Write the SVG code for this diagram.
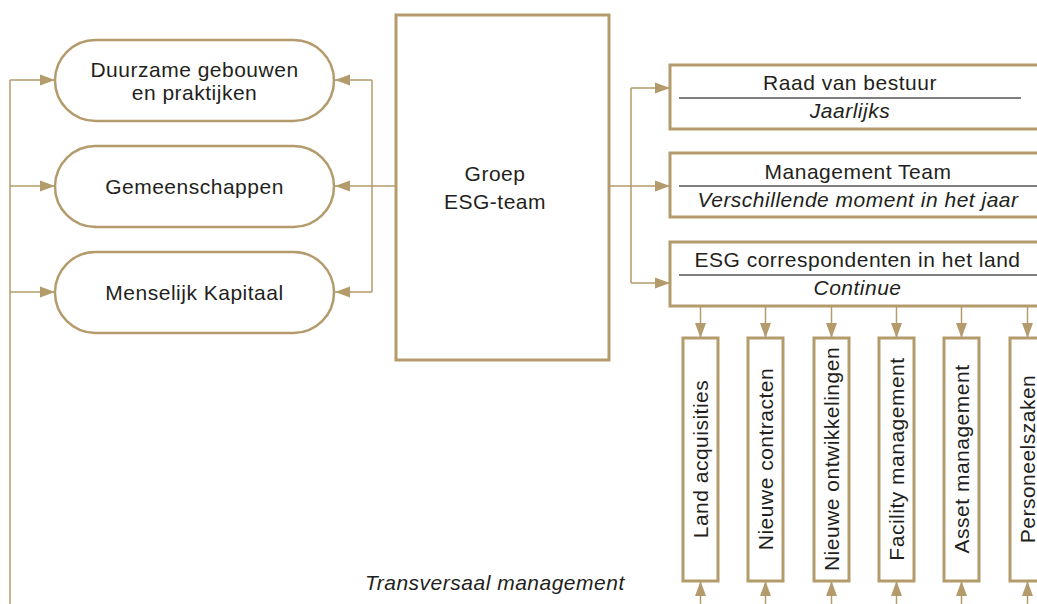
<svg xmlns="http://www.w3.org/2000/svg" width="1037" height="604" viewBox="0 0 1037 604">
<defs>
<marker id="ah" markerUnits="userSpaceOnUse" markerWidth="16" markerHeight="12" refX="15" refY="6" orient="auto">
<path d="M0,0.5 L15,6 L0,11.5 z" fill="#b39b6c"/>
</marker>
<style>
.box{fill:#fff;stroke:#b39b6c;stroke-width:3}
.ln{fill:none;stroke:#b39b6c;stroke-width:1.5}
.arr{fill:none;stroke:#b39b6c;stroke-width:1.5;marker-end:url(#ah)}
.div{stroke:#555;stroke-width:1.6}
text{font-family:"Liberation Sans",Arial,sans-serif;font-size:21px;fill:#231f20;letter-spacing:0.5px}
.c{text-anchor:middle}
.i{font-style:italic}
</style>
</defs>
<rect width="1037" height="604" fill="#fff"/>
<g id="connectors">
<path class="ln" d="M10,604 V80"/>
<path class="arr" d="M10,80 H55"/>
<path class="arr" d="M10,186 H55"/>
<path class="arr" d="M10,292 H55"/>
<path class="ln" d="M372,80 V292"/>
<path class="arr" d="M396,186 H335"/>
<path class="arr" d="M372,80 H335"/>
<path class="arr" d="M372,292 H335"/>
<path class="ln" d="M609,186 H631 M631,88 V283"/>
<path class="arr" d="M631,186 H670"/>
<path class="arr" d="M631,88 H670"/>
<path class="arr" d="M631,283 H670"/>
<path class="arr" d="M700.5,306 V338"/>
<path class="arr" d="M765.5,306 V338"/>
<path class="arr" d="M831.5,306 V338"/>
<path class="arr" d="M896.5,306 V338"/>
<path class="arr" d="M961.5,306 V338"/>
<path class="arr" d="M1027.5,306 V338"/>
<path class="arr" d="M700.5,604 V581"/>
<path class="arr" d="M765.5,604 V581"/>
<path class="arr" d="M831.5,604 V581"/>
<path class="arr" d="M896.5,604 V581"/>
<path class="arr" d="M961.5,604 V581"/>
<path class="arr" d="M1027.5,604 V581"/>
</g>
<g id="duurzame">
<rect class="box" x="55" y="40" width="279" height="81" rx="40.5" style="stroke-width:2.5"/>
<text class="c" x="194.5" y="77">Duurzame gebouwen</text>
<text class="c" x="194.5" y="100">en praktijken</text>
</g>
<g id="gemeenschappen">
<rect class="box" x="55" y="146" width="279" height="81" rx="40.5" style="stroke-width:2.5"/>
<text class="c" x="194.5" y="194">Gemeenschappen</text>
</g>
<g id="menselijk">
<rect class="box" x="55" y="252" width="279" height="81" rx="40.5" style="stroke-width:2.5"/>
<text class="c" x="194.5" y="300">Menselijk Kapitaal</text>
</g>
<g id="esgteam">
<rect class="box" x="396" y="15" width="213" height="345"/>
<text class="c" x="495" y="181">Groep</text>
<text class="c" x="495" y="209">ESG-team</text>
</g>
<g id="raad">
<rect class="box" x="670" y="65" width="380" height="64"/>
<line class="div" x1="679" y1="98" x2="1021" y2="98"/>
<text class="c" x="850" y="90">Raad van bestuur</text>
<text class="c i" x="850" y="118">Jaarlijks</text>
</g>
<g id="mt">
<rect class="box" x="670" y="153" width="380" height="64"/>
<line class="div" x1="679" y1="186" x2="1037" y2="186"/>
<text class="c" x="858" y="179">Management Team</text>
<text class="c i" x="858" y="207">Verschillende moment in het jaar</text>
</g>
<g id="corr">
<rect class="box" x="670" y="242" width="380" height="64"/>
<line class="div" x1="679" y1="275" x2="1037" y2="275"/>
<text class="c" x="857.5" y="267">ESG correspondenten in het land</text>
<text class="c i" x="857.5" y="295">Continue</text>
</g>
<g id="land">
<rect class="box" x="683" y="338" width="35" height="243"/>
<text class="c" transform="translate(708,459) rotate(-90)">Land acquisities</text>
</g>
<g id="contracten">
<rect class="box" x="748" y="338" width="35" height="243"/>
<text class="c" transform="translate(773,459) rotate(-90)">Nieuwe contracten</text>
</g>
<g id="ontwikkelingen">
<rect class="box" x="814" y="338" width="35" height="243"/>
<text class="c" transform="translate(839,459) rotate(-90)">Nieuwe ontwikkelingen</text>
</g>
<g id="facility">
<rect class="box" x="879" y="338" width="35" height="243"/>
<text class="c" transform="translate(904,459) rotate(-90)">Facility management</text>
</g>
<g id="asset">
<rect class="box" x="944" y="338" width="35" height="243"/>
<text class="c" transform="translate(969,459) rotate(-90)">Asset management</text>
</g>
<g id="personeel">
<rect class="box" x="1010" y="338" width="35" height="243"/>
<text class="c" transform="translate(1035,459) rotate(-90)">Personeelszaken</text>
</g>
<text class="i" x="365" y="590">Transversaal management</text>
</svg>
